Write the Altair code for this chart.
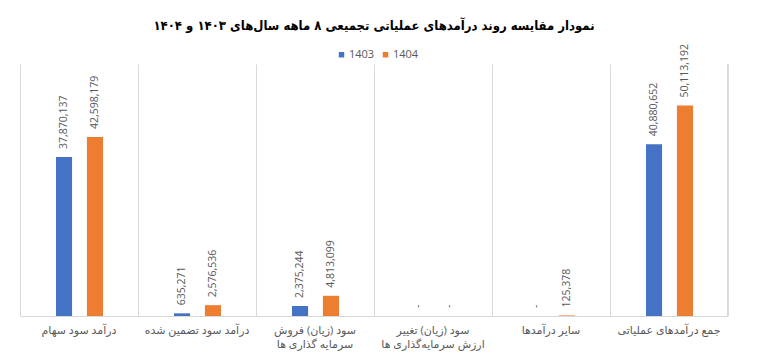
import altair as alt
import pandas as pd

categories = [
    "درآمد سود سهام",
    "درآمد سود تضمین شده",
    "سود (زیان) فروش|سرمایه گذاری ها",
    "سود (زیان) تغییر|ارزش سرمایه‌گذاری ها",
    "سایر درآمدها",
    "جمع درآمدهای عملیاتی",
]
series = ["1403", "1404"]
values_1403 = [37870137, 635271, 2375244, 0, 0, 40880652]
values_1404 = [42598179, 2576536, 4813099, 0, 125378, 50113192]
colors = ["#4472C4", "#ED7D31"]
title_text = "نمودار مقایسه روند درآمدهای عملیاتی تجمیعی ۸ ماهه سال‌های ۱۴۰۳ و ۱۴۰۴"

rows = []
for cat, a, b in zip(categories, values_1403, values_1404):
    for s, v in zip(series, [a, b]):
        rows.append({"cat": cat, "year": s, "value": v,
                     "label": "-" if v == 0 else f"{v:,}"})
df = pd.DataFrame(rows)

W, H = 708, 252
FONT = "Open Sans, DejaVu Sans, sans-serif"

x = alt.X("cat:N", sort=categories, title=None,
          scale=alt.Scale(paddingInner=0, paddingOuter=0),
          axis=alt.Axis(grid=True, bandPosition=0, gridColor="#d9d9d9",
                        domainColor="#d9d9d9", ticks=False, labelAngle=0,
                        labelExpr="split(datum.label, '|')",
                        labelFont=FONT, labelFontSize=11, labelColor="#595959",
                        labelPadding=8, labelLineHeight=14))
xo = alt.XOffset("year:N", sort=series,
                 scale=alt.Scale(range=[36, 83], paddingInner=0.48, paddingOuter=0))
y = alt.Y("value:Q", scale=alt.Scale(domain=[0, 60000000]), axis=None)

bars = alt.Chart(df).mark_bar().encode(
    x=x, xOffset=xo, y=y,
    color=alt.Color("year:N", sort=series,
                    scale=alt.Scale(domain=series, range=colors),
                    legend=alt.Legend(title=None, orient="none", direction="horizontal",
                                      legendX=316, legendY=-15, symbolType="square",
                                      symbolSize=30, labelFont=FONT, labelFontSize=11,
                                      labelColor="#595959", columnPadding=5,
                                      labelOffset=2, symbolOffset=0, padding=0)),
)
labels = alt.Chart(df).mark_text(angle=270, align="left", baseline="middle", dx=8,
                                 font=FONT, fontSize=10.5, color="#595959").encode(
    x=x, xOffset=xo, y=y, text="label:N")
edge = alt.Chart(df).mark_rule(color="#d9d9d9").encode(
    x=alt.value(W), y=alt.value(0), y2=alt.value(H))

chart = alt.layer(bars, labels, edge).properties(
    width=W, height=H,
    title=alt.TitleParams(title_text, font="DejaVu Sans Condensed", fontSize=13,
                          fontWeight="bold", color="#000000", anchor="middle", offset=11),
    padding={"left": 20, "top": 64, "right": 37, "bottom": 37},
    autosize=alt.AutoSizeParams(type="none"),
).configure_view(stroke=None)

chart.save("out.html", embed_options={"renderer": "svg", "actions": False})
